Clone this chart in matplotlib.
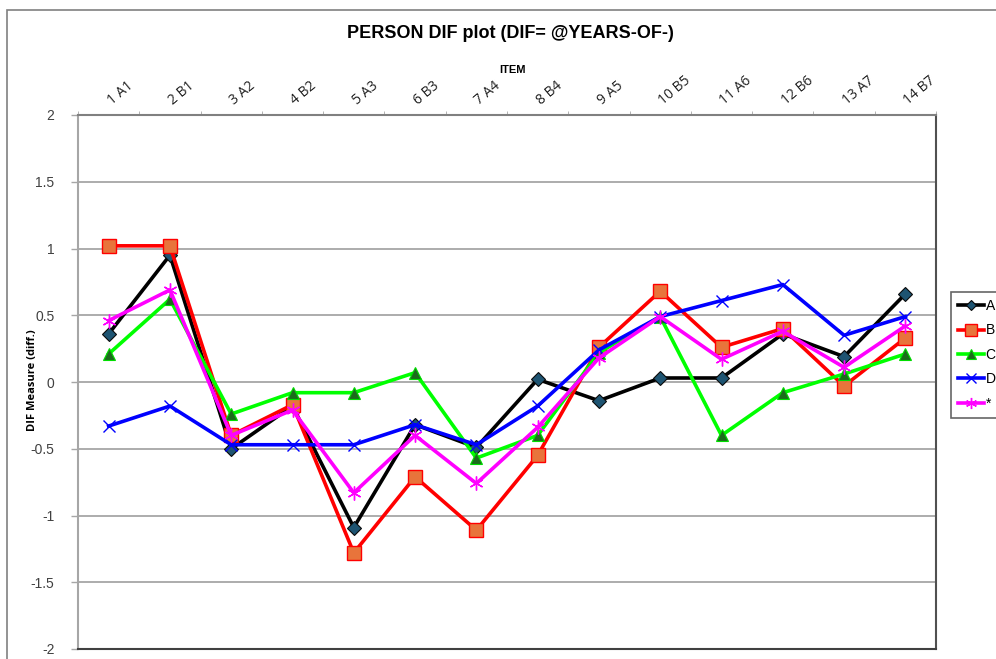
import matplotlib
matplotlib.use("Agg")
import matplotlib.pyplot as plt
from matplotlib.patches import Rectangle
import numpy as np

items = ["1 A1", "2 B1", "3 A2", "4 B2", "5 A3", "6 B3", "7 A4",
         "8 B4", "9 A5", "10 B5", "11 A6", "12 B6", "13 A7", "14 B7"]

series_A = [0.36, 0.95, -0.50, -0.18, -1.09, -0.32, -0.49, 0.02, -0.14, 0.03, 0.03, 0.36, 0.19, 0.66]
series_B = [1.02, 1.02, -0.40, -0.17, -1.28, -0.71, -1.11, -0.55, 0.26, 0.68, 0.26, 0.40, -0.03, 0.33]
series_C = [0.21, 0.62, -0.24, -0.08, -0.08, 0.07, -0.57, -0.40, 0.22, 0.49, -0.40, -0.08, 0.06, 0.21]
series_D = [-0.33, -0.18, -0.47, -0.47, -0.47, -0.32, -0.47, -0.18, 0.24, 0.49, 0.61, 0.73, 0.35, 0.49]
series_S = [0.46, 0.69, -0.40, -0.21, -0.83, -0.40, -0.76, -0.34, 0.18, 0.49, 0.17, 0.38, 0.11, 0.42]

labels = ["A", "B", "C", "D", "*"]

fig = plt.figure(figsize=(9.96, 6.59), dpi=100)
W, H = 996, 659
L, R, T, B = 78, 936, 115, 649
ax = fig.add_axes([L / W, 1 - B / H, (R - L) / W, (B - T) / H])

x = np.arange(len(items))
lw = 2.6
ax.plot(x, series_A, color="black", lw=lw, marker="D", ms=7,
        mfc="#1E5472", mec="#0a0a0a", mew=0.8, label=labels[0], zorder=3)
ax.plot(x, series_B, color="#FF0000", lw=lw, marker="s", ms=10,
        mfc="#E8743B", mec="#FF0000", mew=1.0, label=labels[1], zorder=3)
ax.plot(x, series_C, color="#00FF00", lw=lw, marker="^", ms=9,
        mfc="#1C6B1C", mec="#00DD00", mew=0.8, label=labels[2], zorder=3)
ax.plot(x, series_D, color="#0000FF", lw=lw, marker="x", ms=9,
        mec="#0000FF", mew=1.0, label=labels[3], zorder=3)
ax.plot(x, series_S, color="#FF00FF", lw=lw, marker=(6, 2, 0), ms=10,
        mec="#FF00FF", mew=1.0, label=labels[4], zorder=3)

ax.set_xlim(-0.5, len(items) - 0.5)
ax.set_ylim(-2, 2)
ax.set_yticks(np.arange(-2, 2.01, 0.5))
ax.set_yticklabels(["-2", "-1.5", "-1", "-0.5", "0", "0.5", "1", "1.5", "2"],
                   fontsize=10, color="#404040", family="Liberation Sans")
ax.yaxis.grid(True, color="#A6A6A6", lw=1.3)
ax.set_axisbelow(True)
ax.tick_params(axis="y", length=5, width=1, color="#A6A6A6", pad=12)

ax.set_xticks(x)
ax.set_xticklabels([])
ax.set_xticks(np.arange(-0.5, len(items), 1), minor=True)
ax.xaxis.set_ticks_position("top")
ax.tick_params(axis="x", which="major", length=0, top=True, bottom=False,
               labeltop=False, labelbottom=False)
ax.tick_params(axis="x", which="minor", length=3, top=True, bottom=False,
               color="#A6A6A6")
for xi, lab in zip(x, items):
    ax.annotate(lab, xy=(xi, 2), xycoords="data", xytext=(4, 5),
                textcoords="offset points", rotation=40, rotation_mode="anchor",
                ha="left", va="bottom", fontsize=10, family="Open Sans",
                color="#202020", annotation_clip=False)

ax.spines["left"].set_color("#A6A6A6")
ax.spines["top"].set_color("#808080")
ax.spines["right"].set_color("#505050")
ax.spines["bottom"].set_color("#404040")
for s in ax.spines.values():
    s.set_linewidth(1.5)

fig.text(510 / W, 1 - 33 / H, "PERSON DIF plot (DIF= @YEARS-OF-)", ha="center",
         va="center", fontsize=13, fontweight="bold", family="Liberation Sans")
fig.text(512 / W, 1 - 70 / H, "ITEM", ha="center", va="center", fontsize=8,
         fontweight="bold", family="Liberation Sans")
fig.text(32 / W, 1 - 380 / H, "DIF Measure (diff.)", ha="center", va="center",
         rotation=90, fontsize=8, fontweight="bold", family="Open Sans")

leg = fig.legend(loc="upper left", bbox_to_anchor=(951 / W, 1 - 292 / H),
                 frameon=True, fancybox=False, fontsize=10, handlelength=1.9,
                 labelspacing=0.75, handletextpad=0.1, borderpad=0.5,
                 borderaxespad=0, markerscale=0.8)
leg.get_frame().set_edgecolor("#404040")
leg.get_frame().set_linewidth(1.2)
for t in leg.get_texts():
    t.set_family("Liberation Sans")

fig.patches.append(Rectangle((7 / W, -0.1), 2, 1.1 - 10 / H, transform=fig.transFigure,
                             fill=False, edgecolor="#808080", lw=1.2, zorder=0))

fig.savefig("out.png", dpi=100)
